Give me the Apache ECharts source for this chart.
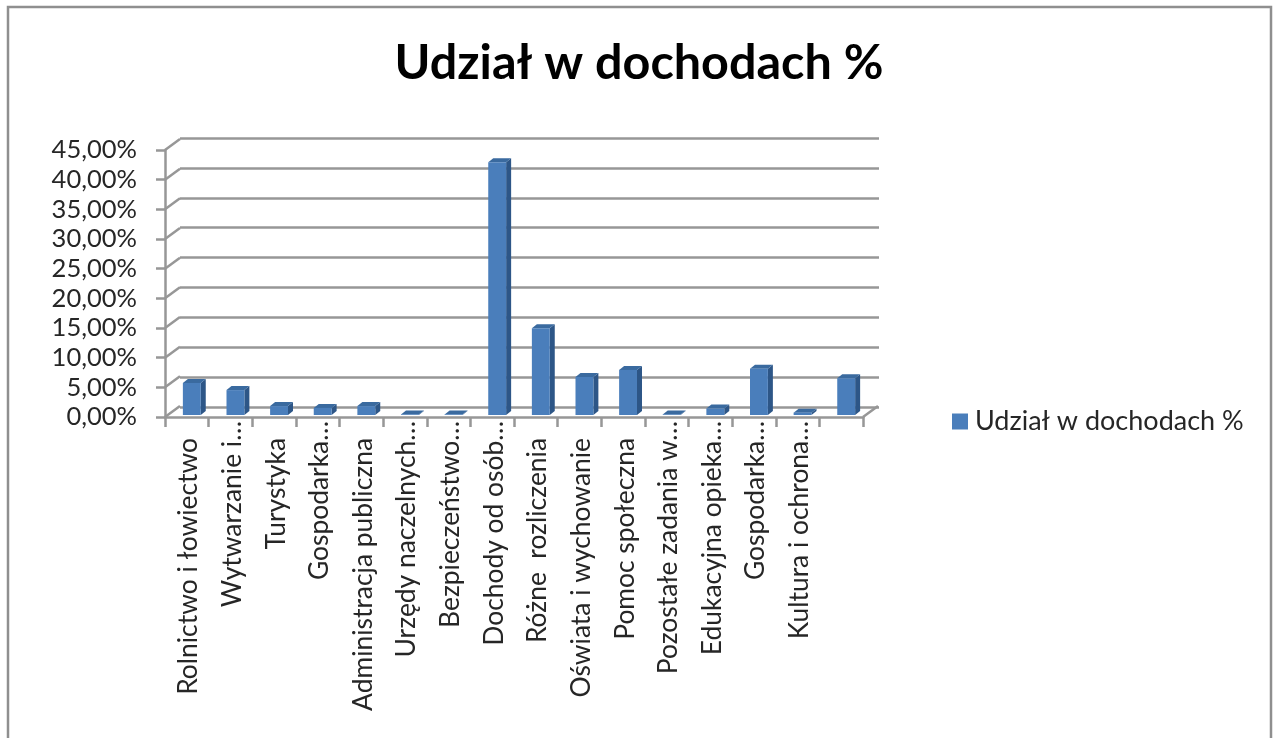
<!DOCTYPE html>
<html>
<head>
<meta charset="utf-8">
<title>Udział w dochodach %</title>
<script src="https://cdn.jsdelivr.net/npm/echarts@6/dist/echarts.min.js"></script>
<style>
html, body { margin: 0; padding: 0; background: #fff; }
#chart { width: 1275px; height: 738px; }
</style>
</head>
<body>
<div id="chart"></div>
<script>
var seriesName = "Udział w dochodach %";
var categories = ["Rolnictwo i łowiectwo", "Wytwarzanie i…", "Turystyka", "Gospodarka…", "Administracja publiczna",
    "Urzędy naczelnych…", "Bezpieczeństwo…", "Dochody od osób…", "Różne  rozliczenia", "Oświata i wychowanie",
    "Pomoc społeczna", "Pozostałe zadania w…", "Edukacyjna opieka…", "Gospodarka…", "Kultura i ochrona…", ""];
var values = [5.4, 4.2, 1.5, 1.2, 1.5, 0.1, 0.1, 42.6, 14.6, 6.4, 7.6, 0.1, 1.1, 7.8, 0.4, 6.2];
var yTicks = [0, 5, 10, 15, 20, 25, 30, 35, 40, 45];

var fontName = "Lato";
var lineColor = "#979797";
var lineWidth = 2.5;
var textColor = "#262626";
// how far the back wall sits from the front plane
var wallDx = 15;
var wallDy = -11;

function formatPercent(v) {
    return v.toFixed(2).replace(".", ",") + "%";
}

// cut labels start closer to the axis so that the dots sit above the word
function formatCategory(name) {
    if (!name) {
        return "";
    }
    var style = name.charAt(name.length - 1) == "…" ? "cut" : "full";
    return "{" + style + "|" + name + "}";
}

// one 3d column: front, top and right side
function renderBar(params, api) {
    var idx = api.value(0);
    var top = api.coord([idx, api.value(1)]);
    var base = api.coord([idx, 0]);
    var band = api.size([1, 0])[0];
    var w = band * 0.41;
    var x0 = top[0] - w / 2 + 5;
    var x1 = x0 + w;
    var yTop = top[1] - 2;
    var yBase = base[1] - 2;
    var dx = 5;
    var dy = -4;
    return {
        type: "group",
        children: [
            {
                type: "polygon",
                shape: { points: [[x1, yTop], [x1 + dx, yTop + dy], [x1 + dx, yBase + dy], [x1, yBase]] },
                style: { fill: "#2d5687" }
            },
            {
                type: "polygon",
                shape: { points: [[x0, yTop], [x0 + dx, yTop + dy], [x1 + dx, yTop + dy], [x1, yTop]] },
                style: { fill: "#3a6a9f" }
            },
            {
                type: "rect",
                shape: { x: x0, y: yTop, width: w, height: yBase - yTop },
                style: { fill: "#4a7ebb" }
            }
        ]
    };
}

// diagonal from each front tick to its line on the back wall
function renderConnector(params, api) {
    var p = api.coord([0, api.value(0)]);
    var x = params.coordSys.x;
    return {
        type: "line",
        shape: { x1: x, y1: p[1], x2: x + wallDx, y2: p[1] + wallDy },
        style: { stroke: lineColor, lineWidth: lineWidth }
    };
}

// right end of the floor
function renderFloorEnd(params, api) {
    var p = api.coord([0, 0]);
    var x = params.coordSys.x + params.coordSys.width;
    return {
        type: "line",
        shape: { x1: x, y1: p[1], x2: x + wallDx, y2: p[1] + wallDy },
        style: { stroke: lineColor, lineWidth: lineWidth }
    };
}

var myChart = echarts.init(document.getElementById("chart"));
var option = {
    animation: false,
    backgroundColor: "#fff",
    textStyle: { fontFamily: fontName },
    title: {
        text: seriesName,
        left: 634,
        top: 34,
        textAlign: "center",
        textStyle: { fontFamily: fontName, fontSize: 48.5, fontWeight: "bold", color: "#000" }
    },
    legend: {
        left: 947,
        top: 403,
        icon: "rect",
        itemWidth: 16,
        itemHeight: 16,
        itemGap: 6,
        data: [seriesName],
        textStyle: { fontFamily: fontName, fontSize: 27, color: textColor, padding: [0, 0, 0, 2] }
    },
    graphic: [{
        type: "rect",
        silent: true,
        z: -1,
        shape: { x: 8, y: 7, width: 1263, height: 800 },
        style: { fill: "none", stroke: "#8f8f8f", lineWidth: lineWidth }
    }],
    grid: [
        { left: 165, top: 150, width: 698, height: 267 },
        { left: 180, top: 138, width: 699, height: 269 }
    ],
    xAxis: [
        {
            type: "category",
            gridIndex: 0,
            data: categories,
            axisLine: { lineStyle: { color: lineColor, width: lineWidth } },
            axisTick: { show: true, length: 10, lineStyle: { color: lineColor, width: lineWidth } },
            axisLabel: {
                interval: 0,
                rotate: 90,
                margin: 4,
                formatter: formatCategory,
                rich: {
                    full: { fontFamily: fontName, fontSize: 26.4, color: textColor, padding: [4, 17, 0, 0] },
                    cut: { fontFamily: fontName, fontSize: 26.4, color: textColor, padding: [4, 0, 0, 0] }
                }
            }
        },
        { type: "category", gridIndex: 1, data: categories, show: false }
    ],
    yAxis: [
        {
            type: "value",
            gridIndex: 0,
            min: 0,
            max: 45,
            interval: 5,
            axisLine: { show: true, lineStyle: { color: lineColor, width: lineWidth } },
            axisTick: { show: true, length: 9, lineStyle: { color: lineColor, width: lineWidth } },
            axisLabel: {
                margin: 28,
                fontFamily: fontName,
                fontSize: 25.5,
                color: textColor,
                padding: [4, 0, 0, 0],
                formatter: formatPercent
            },
            splitLine: { show: false }
        },
        {
            type: "value",
            gridIndex: 1,
            min: 0,
            max: 45,
            interval: 5,
            axisLine: { show: false },
            axisTick: { show: false },
            axisLabel: { show: false },
            splitLine: { show: true, lineStyle: { color: lineColor, width: lineWidth } }
        }
    ],
    series: [
        {
            type: "custom",
            name: "connectors",
            xAxisIndex: 0,
            yAxisIndex: 0,
            z: 1,
            silent: true,
            clip: false,
            encode: { y: 0 },
            renderItem: renderConnector,
            data: yTicks.map(function(v) { return [v]; })
        },
        {
            type: "custom",
            name: "floorEnd",
            xAxisIndex: 0,
            yAxisIndex: 0,
            z: 1,
            silent: true,
            clip: false,
            encode: { y: 0 },
            renderItem: renderFloorEnd,
            data: [[0]]
        },
        {
            type: "custom",
            name: seriesName,
            xAxisIndex: 0,
            yAxisIndex: 0,
            z: 5,
            clip: false,
            itemStyle: { color: "#4a7ebb" },
            encode: { x: 0, y: 1 },
            renderItem: renderBar,
            data: values.map(function(v, i) { return [i, v]; })
        }
    ]
};
myChart.setOption(option);
</script>
</body>
</html>
